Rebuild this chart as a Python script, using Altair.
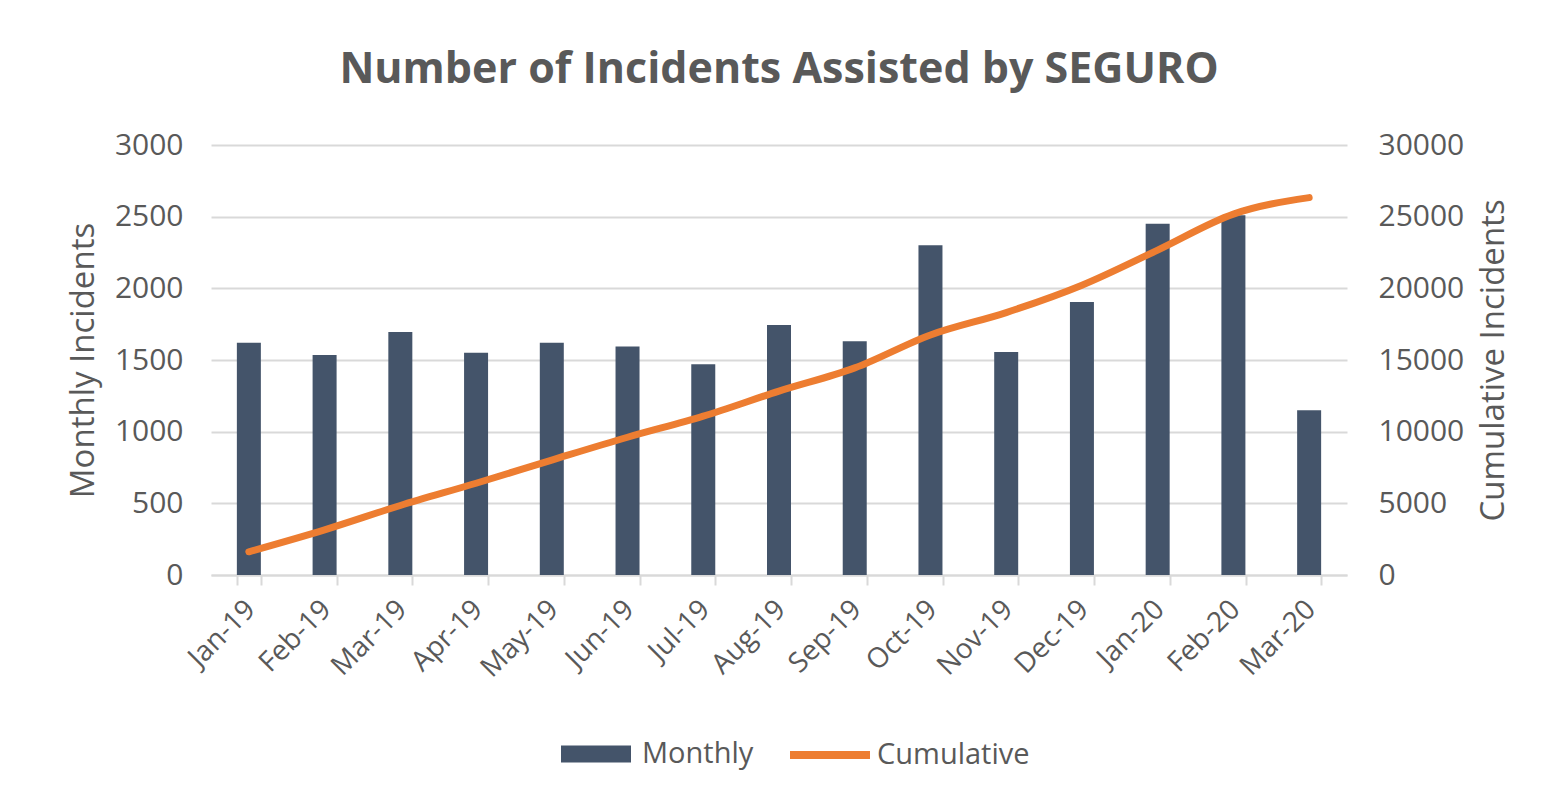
import altair as alt
import pandas as pd

months = ["Jan-19", "Feb-19", "Mar-19", "Apr-19", "May-19", "Jun-19", "Jul-19", "Aug-19",
          "Sep-19", "Oct-19", "Nov-19", "Dec-19", "Jan-20", "Feb-20", "Mar-20"]
monthly = [1620, 1535, 1695, 1550, 1620, 1595, 1470, 1745, 1630, 2300, 1555, 1905, 2450, 2510, 1150]
cumulative = [1620, 3150, 4850, 6400, 8020, 9610, 11080, 12830, 14450, 16750, 18310, 20220, 22670, 25180, 26330]

df = pd.DataFrame({"Month": months, "Monthly": monthly, "Cumulative": cumulative})

FONT = "Open Sans"
GRAY = "#595959"
GRID = "#d9d9d9"
BAR = "#44546A"
ORANGE = "#ED7D31"

x = alt.X("Month:N", sort=months, title=None,
          scale=alt.Scale(paddingInner=0.68, paddingOuter=0.34),
          axis=alt.Axis(labelAngle=-45, labelFontSize=28, labelColor=GRAY, labelFont=FONT,
                        tickBand="extent", tickSize=10, tickColor=GRID, tickWidth=2,
                        domainColor=GRID, domainWidth=2, labelPadding=10, labelOffset=-8,
                        grid=False))

bars = alt.Chart(df).mark_bar(size=24).encode(
    x=x,
    y=alt.Y("Monthly:Q", scale=alt.Scale(domain=[0, 3000]),
            axis=alt.Axis(title="Monthly Incidents", values=[0, 500, 1000, 1500, 2000, 2500, 3000],
                          format="d", grid=True, gridColor=GRID, gridWidth=2, domain=False, ticks=False,
                          labelFontSize=30, labelColor=GRAY, labelFont=FONT, labelPadding=28,
                          titleFontSize=33, titleColor=GRAY, titleFont=FONT, titleFontWeight="normal",
                          titlePadding=14)),
    fill=alt.Fill("s:N", scale=alt.Scale(domain=["Monthly"], range=[BAR]),
                  legend=alt.Legend(title=None, orient="none", legendX=350, legendY=574,
                                    symbolType="M-1,-0.243H1V0.243H-1Z", symbolSize=4900,
                                    symbolStrokeWidth=0, labelFontSize=29, labelColor=GRAY,
                                    labelFont=FONT, labelOffset=11)),
).transform_calculate(s="'Monthly'")

line = alt.Chart(df).mark_line(strokeWidth=7, interpolate="monotone", strokeCap="round").encode(
    x=x,
    y=alt.Y("Cumulative:Q", scale=alt.Scale(domain=[0, 30000]),
            axis=alt.Axis(title="Cumulative Incidents", orient="right",
                          values=[0, 5000, 10000, 15000, 20000, 25000, 30000],
                          format="d", grid=False, domain=False, ticks=False,
                          labelFontSize=30, labelColor=GRAY, labelFont=FONT, labelPadding=31,
                          titleFontSize=33, titleColor=GRAY, titleFont=FONT, titleFontWeight="normal",
                          titleAngle=270, titleBaseline="top", titlePadding=14)),
    stroke=alt.Stroke("s:N", scale=alt.Scale(domain=["Cumulative"], range=[ORANGE]),
                      legend=alt.Legend(title=None, orient="none", legendX=575, legendY=566,
                                        symbolType="stroke", symbolSize=6400, symbolStrokeWidth=8,
                                        labelFontSize=29, labelColor=GRAY, labelFont=FONT,
                                        labelOffset=3)),
).transform_calculate(s="'Cumulative'")

chart = alt.layer(bars, line).resolve_scale(
    y="independent", fill="independent", stroke="independent"
).properties(
    width=1136, height=430,
    title=alt.TitleParams("Number of Incidents Assisted by SEGURO", fontSize=43, font=FONT,
                          fontWeight="bold", color=GRAY, anchor="middle", offset=38),
    autosize=alt.AutoSizeParams(type="none"),
    padding={"left": 203, "top": 137, "right": 199, "bottom": 220},
).configure(background="white").configure_view(stroke=None)

chart.save("out.html", embed_options={"renderer": "svg", "actions": False})
